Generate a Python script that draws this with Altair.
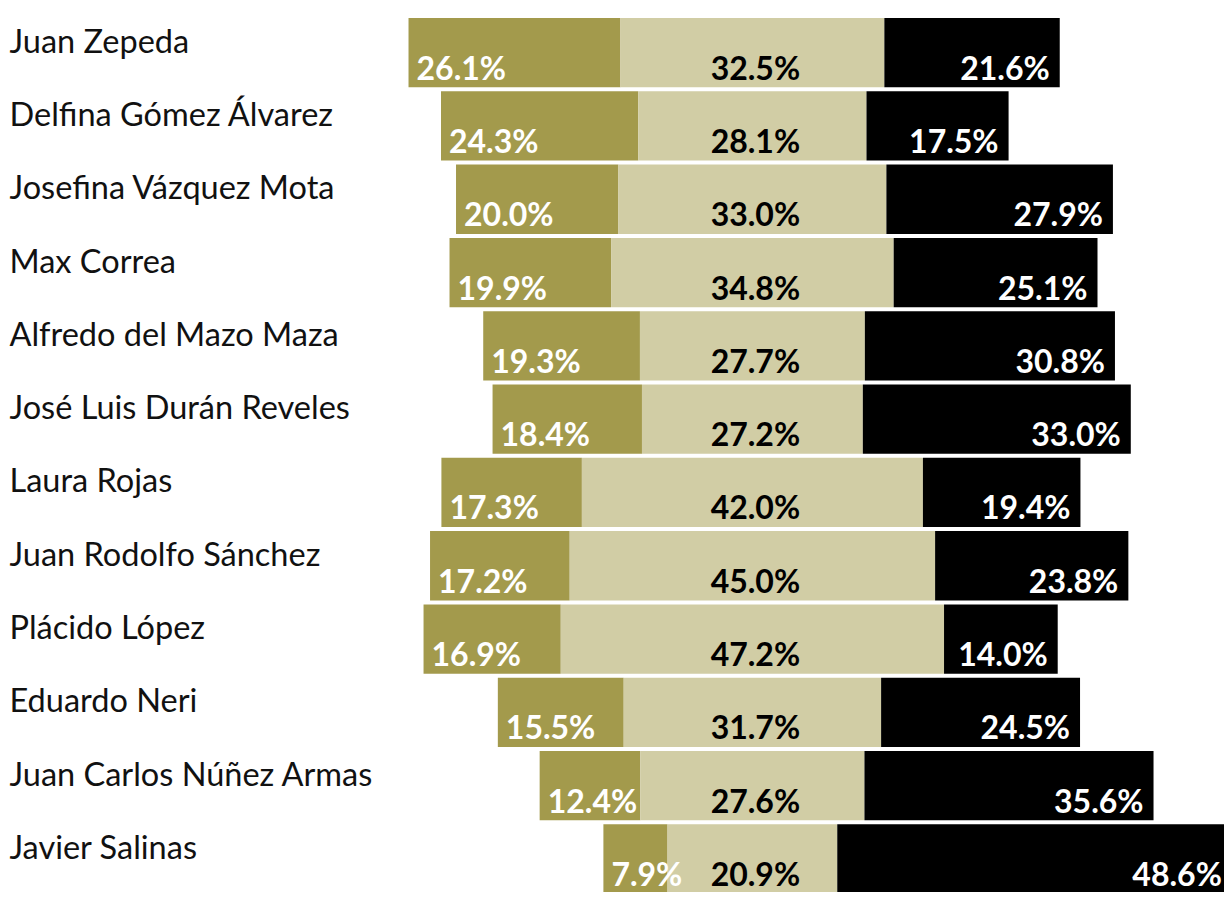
import altair as alt
import pandas as pd

names = ["Juan Zepeda", "Delfina Gómez Álvarez", "Josefina Vázquez Mota", "Max Correa",
         "Alfredo del Mazo Maza", "José Luis Durán Reveles", "Laura Rojas",
         "Juan Rodolfo Sánchez", "Plácido López", "Eduardo Neri",
         "Juan Carlos Núñez Armas", "Javier Salinas"]
olive_vals = [26.1, 24.3, 20.0, 19.9, 19.3, 18.4, 17.3, 17.2, 16.9, 15.5, 12.4, 7.9]
mid_vals = [32.5, 28.1, 33.0, 34.8, 27.7, 27.2, 42.0, 45.0, 47.2, 31.7, 27.6, 20.9]
black_vals = [21.6, 17.5, 27.9, 25.1, 30.8, 33.0, 19.4, 23.8, 14.0, 24.5, 35.6, 48.6]

segments = ["a", "b", "c"]
colors = ["#A39A4C", "#D1CDA5", "#000000"]

rows = []
for n, o, m, b in zip(names, olive_vals, mid_vals, black_vals):
    rows.append({"name": n, "seg": "a", "start": -(m / 2 + o), "end": -m / 2, "label": f"{o:.1f}%"})
    rows.append({"name": n, "seg": "b", "start": -m / 2, "end": m / 2, "label": f"{m:.1f}%"})
    rows.append({"name": n, "seg": "c", "start": m / 2, "end": m / 2 + b, "label": f"{b:.1f}%"})
df = pd.DataFrame(rows)

K = 8.12
PAD_L = 379
W = 837
L = -45
R = L + W / K
STEP = 73.3
H = 12 * STEP
PAD_T = 8
SVG_H = 884
PAD_B = SVG_H - PAD_T - H

x_scale = alt.Scale(domain=[L, R], nice=False, zero=False)
y_enc = alt.Y("name:N", sort=names, title=None,
              scale=alt.Scale(paddingInner=4 / 74, paddingOuter=2 / 74),
              axis=alt.Axis(labelAlign="left", labelPadding=PAD_L - 1, labelLimit=0,
                            labelFont="Lato", labelFontSize=32.5, labelColor="#111111",
                            labelBaseline="alphabetic", ticks=False, domain=False,
                            grid=False))

bars = alt.Chart().mark_bar().encode(
    x=alt.X("start:Q", scale=x_scale, axis=None),
    x2="end:Q",
    y=y_enc,
    color=alt.Color("seg:N", scale=alt.Scale(domain=segments, range=colors), legend=None),
)

def text_layer(seg, align, dx, color):
    base = alt.Chart().transform_filter(alt.datum.seg == seg)
    if seg == "a":
        xfield = "start"
    elif seg == "c":
        xfield = "end"
    else:
        base = base.transform_calculate(center="0")
        xfield = "center"
    return base.mark_text(align=align, baseline="alphabetic", dx=dx, dy=27,
                          font="Lato", fontSize=32, fontWeight="bold", color=color).encode(
        x=alt.X(f"{xfield}:Q", scale=x_scale, axis=None),
        y=alt.Y("name:N", sort=names),
        text="label:N",
    )

t1 = text_layer("a", "left", 8, "#ffffff")
t2 = text_layer("b", "center", 3, "#000000")
t3 = text_layer("c", "right", -10, "#ffffff")

chart = alt.layer(bars, t1, t2, t3, data=df).properties(
    width=W, height=H,
    autosize=alt.AutoSizeParams(type="none"),
    padding={"left": PAD_L, "top": PAD_T, "right": 0, "bottom": PAD_B},
    background="#ffffff",
).configure_view(stroke=None)

chart.save("out.html", embed_options={"renderer": "svg", "actions": False})
